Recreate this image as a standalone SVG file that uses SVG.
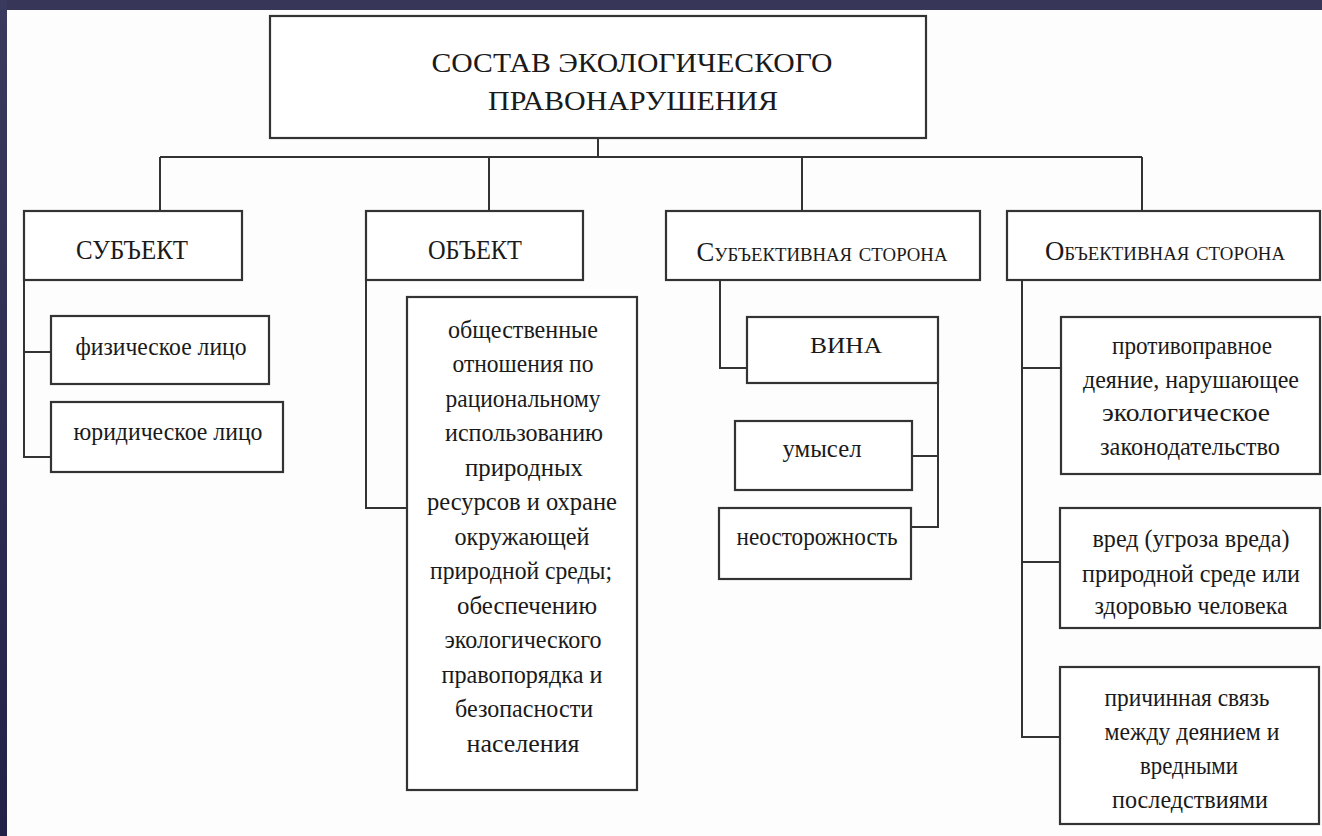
<svg xmlns="http://www.w3.org/2000/svg" width="1322" height="836" viewBox="0 0 1322 836">
  <defs>
    <linearGradient id="frame" x1="0" y1="0" x2="0" y2="1">
      <stop offset="0" stop-color="#3a3a5e"/>
      <stop offset="1" stop-color="#222249"/>
    </linearGradient>
    <style>
      .box { fill: #ffffff; stroke: #333333; stroke-width: 2.2; }
      .conn { fill: none; stroke: #333333; stroke-width: 2; }
      text { font-family: 'Liberation Serif', 'DejaVu Serif', 'Times New Roman', serif; fill: #1a1a1a; text-anchor: middle; }
      .ttl { font-size: 28px; }
      .cap { font-size: 27px; }
      .low { font-size: 26px; }
      .sc { font-size: 27px; font-variant: small-caps; }
    </style>
  </defs>

  <rect x="0" y="0" width="1322" height="836" fill="#fdfdfd"/>
  <rect x="0" y="0" width="1322" height="10" fill="#373659"/>
  <rect x="0" y="0" width="7" height="836" fill="url(#frame)"/>

  <g id="connectors">
    <path class="conn" d="M598 138 V157 M160 157 H1142 M160 157 V211 M489 157 V211 M802 157 V211 M1142 157 V211"/>
    <path class="conn" d="M24 280 V457 H51 M24 352 H51"/>
    <path class="conn" d="M366 280 V508 H407"/>
    <path class="conn" d="M720 280 V368 H747 M938 352 V527 H911 M912 456 H938"/>
    <path class="conn" d="M1022 280 V737 H1060 M1022 368 H1061 M1022 562 H1060"/>
  </g>

  <g id="root">
    <rect class="box" x="270" y="16" width="656" height="122"/>
    <text class="ttl" x="632" y="72" textLength="401" lengthAdjust="spacingAndGlyphs">СОСТАВ ЭКОЛОГИЧЕСКОГО</text>
    <text class="ttl" x="633" y="110" textLength="290" lengthAdjust="spacingAndGlyphs">ПРАВОНАРУШЕНИЯ</text>
  </g>

  <g id="subject">
    <rect class="box" x="24" y="211" width="218" height="69"/>
    <text class="cap" x="132" y="259" textLength="112" lengthAdjust="spacingAndGlyphs">СУБЪЕКТ</text>
  </g>
  <g id="object">
    <rect class="box" x="366" y="211" width="217" height="69"/>
    <text class="cap" x="475" y="259" textLength="94" lengthAdjust="spacingAndGlyphs">ОБЪЕКТ</text>
  </g>
  <g id="subjective-side">
    <rect class="box" x="666" y="211" width="314" height="69"/>
    <text class="sc" x="822" y="261" textLength="251" lengthAdjust="spacingAndGlyphs">Субъективная сторона</text>
  </g>
  <g id="objective-side">
    <rect class="box" x="1007" y="211" width="313" height="69"/>
    <text class="sc" x="1165" y="260" textLength="240" lengthAdjust="spacingAndGlyphs">Объективная сторона</text>
  </g>

  <g id="physical-person">
    <rect class="box" x="51" y="316" width="218" height="68"/>
    <text class="low" x="161" y="355" textLength="171" lengthAdjust="spacingAndGlyphs">физическое лицо</text>
  </g>
  <g id="legal-person">
    <rect class="box" x="51" y="402" width="232" height="70"/>
    <text class="low" x="168" y="440" textLength="189" lengthAdjust="spacingAndGlyphs">юридическое лицо</text>
  </g>

  <g id="object-detail">
    <rect class="box" x="407" y="297" width="230" height="493"/>
    <text class="low" x="523" y="338" textLength="150" lengthAdjust="spacingAndGlyphs">общественные</text>
    <text class="low" x="523" y="372" textLength="141" lengthAdjust="spacingAndGlyphs">отношения по</text>
    <text class="low" x="523" y="407" textLength="155" lengthAdjust="spacingAndGlyphs">рациональному</text>
    <text class="low" x="524" y="441" textLength="158" lengthAdjust="spacingAndGlyphs">использованию</text>
    <text class="low" x="524" y="476" textLength="118" lengthAdjust="spacingAndGlyphs">природных</text>
    <text class="low" x="522" y="510" textLength="190" lengthAdjust="spacingAndGlyphs">ресурсов и охране</text>
    <text class="low" x="522" y="545" textLength="135" lengthAdjust="spacingAndGlyphs">окружающей</text>
    <text class="low" x="521" y="579" textLength="182" lengthAdjust="spacingAndGlyphs">природной среды;</text>
    <text class="low" x="527" y="614" textLength="140" lengthAdjust="spacingAndGlyphs">обеспечению</text>
    <text class="low" x="523" y="648" textLength="157" lengthAdjust="spacingAndGlyphs">экологического</text>
    <text class="low" x="522" y="683" textLength="161" lengthAdjust="spacingAndGlyphs">правопорядка и</text>
    <text class="low" x="524" y="717" textLength="138" lengthAdjust="spacingAndGlyphs">безопасности</text>
    <text class="low" x="523" y="752" textLength="113" lengthAdjust="spacingAndGlyphs">населения</text>
  </g>

  <g id="guilt">
    <rect class="box" x="747" y="317" width="191" height="66"/>
    <text font-size="24" x="846" y="353" textLength="72" lengthAdjust="spacingAndGlyphs">ВИНА</text>
  </g>
  <g id="intent">
    <rect class="box" x="735" y="421" width="177" height="69"/>
    <text class="low" x="822" y="457" textLength="79" lengthAdjust="spacingAndGlyphs">умысел</text>
  </g>
  <g id="negligence">
    <rect class="box" x="719" y="508" width="192" height="71"/>
    <text class="low" x="817" y="545" textLength="161" lengthAdjust="spacingAndGlyphs">неосторожность</text>
  </g>

  <g id="unlawful-act">
    <rect class="box" x="1061" y="317" width="259" height="157"/>
    <text class="low" x="1192" y="354" textLength="160" lengthAdjust="spacingAndGlyphs">противоправное</text>
    <text class="low" x="1191" y="388" textLength="216" lengthAdjust="spacingAndGlyphs">деяние, нарушающее</text>
    <text class="low" x="1186" y="421" textLength="168" lengthAdjust="spacingAndGlyphs">экологическое</text>
    <text class="low" x="1190" y="455" textLength="180" lengthAdjust="spacingAndGlyphs">законодательство</text>
  </g>
  <g id="harm">
    <rect class="box" x="1060" y="508" width="260" height="120"/>
    <text class="low" x="1191" y="547" textLength="197" lengthAdjust="spacingAndGlyphs">вред (угроза вреда)</text>
    <text class="low" x="1191" y="582" textLength="218" lengthAdjust="spacingAndGlyphs">природной среде или</text>
    <text class="low" x="1191" y="614" textLength="193" lengthAdjust="spacingAndGlyphs">здоровью человека</text>
  </g>
  <g id="causation">
    <rect class="box" x="1060" y="667" width="259" height="157"/>
    <text class="low" x="1187" y="706" textLength="165" lengthAdjust="spacingAndGlyphs">причинная связь</text>
    <text class="low" x="1192" y="740" textLength="175" lengthAdjust="spacingAndGlyphs">между деянием и</text>
    <text class="low" x="1189" y="774" textLength="98" lengthAdjust="spacingAndGlyphs">вредными</text>
    <text class="low" x="1190" y="808" textLength="156" lengthAdjust="spacingAndGlyphs">последствиями</text>
  </g>
</svg>
